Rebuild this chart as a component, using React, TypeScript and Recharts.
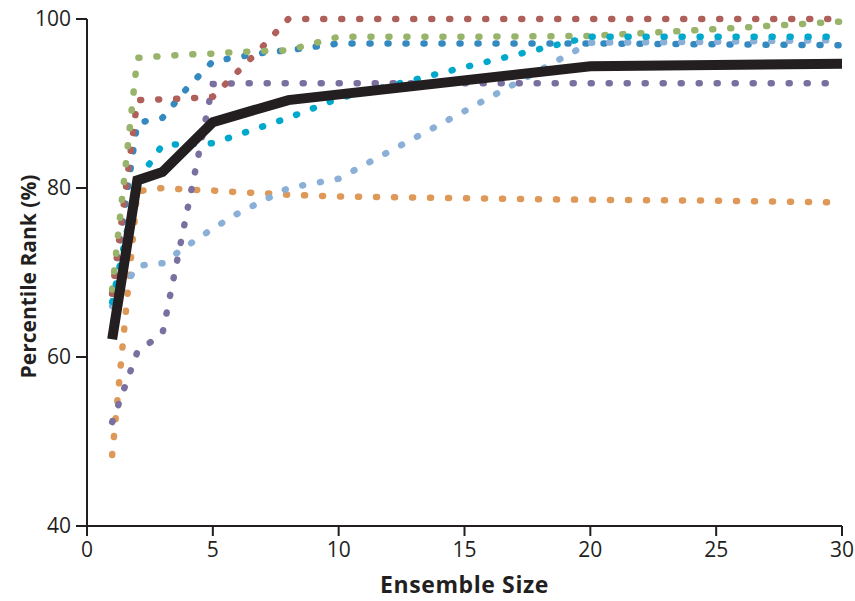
import { Line, LineChart, XAxis, YAxis } from 'recharts';

// ensemble sizes sampled on the x axis
const sizes = [1, 2, 3, 4, 5, 6, 7, 8, 10, 15, 20, 25, 30];

const redSeries = [67.5, 90.4, 90.5, 90.6, 90.8, 93.8, 96.8, 100, 100, 100, 100, 100, 100];
const greenSeries = [68.0, 95.4, 95.6, 95.8, 95.9, 96.1, 96.2, 96.3, 97.9, 97.9, 98.0, 98.8, 99.7];
const blueSeries = [67.5, 87.7, 88.3, 91.9, 95.0, 95.5, 96.0, 96.3, 97.1, 97.1, 97.1, 97.0, 96.9];
const cyanSeries = [66.5, 80.8, 85.1, 85.2, 85.3, 86.3, 87.3, 88.3, 90.6, 94.3, 97.9, 97.9, 97.9];
const purpleSeries = [52.3, 60.6, 62.8, 77.6, 92.3, 92.4, 92.4, 92.4, 92.4, 92.4, 92.4, 92.4, 92.4];
const orangeSeries = [48.4, 79.6, 80.0, 79.8, 79.7, 79.5, 79.4, 79.2, 79.0, 78.8, 78.6, 78.5, 78.3];
const lightBlueSeries = [66.0, 70.8, 71.1, 73.2, 75.2, 77.0, 78.5, 80.0, 81.1, 89.1, 97.2, 97.3, 97.5];
const meanSeries = [62.1, 80.9, 81.9, null, 87.8, null, null, 90.4, null, null, 94.4, null, 94.7];

const xTicks = [0, 5, 10, 15, 20, 25, 30];
const yTicks = [40, 60, 80, 100];

const dotted = [
  { key: 'orange', color: '#de9858' },
  { key: 'purple', color: '#7a70a0' },
  { key: 'blue', color: '#3489c0' },
  { key: 'red', color: '#b0605a' },
  { key: 'green', color: '#97b46a' },
  { key: 'lightBlue', color: '#8ab0d8' },
  { key: 'cyan', color: '#00a8cc' },
];

const data = sizes.map((size, i) => ({
  size,
  red: redSeries[i],
  green: greenSeries[i],
  blue: blueSeries[i],
  cyan: cyanSeries[i],
  purple: purpleSeries[i],
  orange: orangeSeries[i],
  lightBlue: lightBlueSeries[i],
  mean: meanSeries[i],
}));

const axisColor = '#231f20';
const tickStyle = { fontFamily: 'Open Sans', fontSize: 21, fill: axisColor };
const xTitleStyle = { fontFamily: 'Open Sans', fontSize: 23, fontWeight: 700, fill: axisColor, letterSpacing: 0.6 };
const yTitleStyle = { fontFamily: 'Open Sans', fontSize: 21, fontWeight: 700, fill: axisColor };

const YTitle = (props: any) => {
  const { viewBox } = props;
  const cx = viewBox.x + 28;
  const cy = viewBox.y + viewBox.height / 2 + 4;
  return (
    <text
      x={cx}
      y={cy}
      transform={`rotate(-90 ${cx} ${cy})`}
      textAnchor="middle"
      dominantBaseline="central"
      style={yTitleStyle}
    >
      Percentile Rank (%)
    </text>
  );
};

export default function App() {
  return (
    <div style={{ position: 'absolute', left: 0, top: 0, background: '#fff' }}>
      <LineChart
        width={855}
        height={601}
        data={data}
        margin={{ top: 19, right: 13, left: 0, bottom: 0 }}
      >
        <XAxis
          dataKey="size"
          type="number"
          domain={[0, 30]}
          ticks={xTicks}
          height={75}
          tick={tickStyle}
          tickSize={10}
          tickMargin={6}
          axisLine={{ stroke: axisColor, strokeWidth: 2 }}
          tickLine={{ stroke: axisColor, strokeWidth: 2 }}
          label={{
            value: 'Ensemble Size',
            position: 'insideBottom',
            offset: 8,
            style: xTitleStyle,
          }}
        />
        <YAxis
          type="number"
          domain={[40, 100]}
          ticks={yTicks}
          width={87}
          tick={tickStyle}
          tickSize={11}
          tickMargin={5}
          axisLine={{ stroke: axisColor, strokeWidth: 2 }}
          tickLine={{ stroke: axisColor, strokeWidth: 2 }}
          label={{ content: YTitle }}
        />
        {dotted.map((s) => (
          <Line
            key={s.key}
            type="linear"
            dataKey={s.key}
            stroke={s.color}
            strokeWidth={6.5}
            strokeDasharray="1 17"
            strokeLinecap="round"
            dot={false}
            activeDot={false}
            isAnimationActive={false}
          />
        ))}
        <Line
          type="linear"
          dataKey="mean"
          stroke="#231f20"
          strokeWidth={10}
          strokeLinejoin="miter"
          connectNulls
          dot={false}
          activeDot={false}
          isAnimationActive={false}
        />
      </LineChart>
    </div>
  );
}
